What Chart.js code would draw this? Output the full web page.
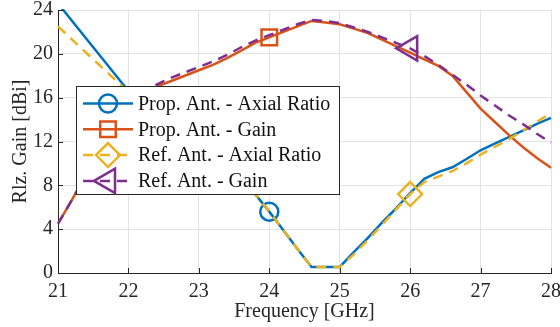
<!DOCTYPE html>
<html lang="en">
<head>
    <meta charset="UTF-8">
    <title>Rlz. Gain vs Frequency</title>
    <style>
        body { margin: 0; background: #fff; }
        #wrap { width: 560px; height: 327px; }
    </style>
</head>
<body>
    <div id="wrap"><canvas id="chart" width="560" height="327"></canvas></div>

    <script src="https://cdn.jsdelivr.net/npm/chart.js@4"></script>
    <script>
        // Frequency samples [GHz]
        const freq = [21.0, 21.2, 21.4, 21.6, 21.8, 22.0, 22.2, 22.4, 22.6, 22.8,
                      23.0, 23.2, 23.4, 23.6, 23.8, 24.0, 24.2, 24.4, 24.6, 24.8,
                      25.0, 25.2, 25.4, 25.6, 25.8, 26.0, 26.2, 26.4, 26.6, 26.8,
                      27.0, 27.2, 27.4, 27.6, 27.8, 28.0];

        // Proposed antenna - axial ratio
        const propAR = [24.6, 23.0, 21.4, 19.8, 18.2, 16.6, 15.2, 13.8, 12.5, 11.4,
                        10.5, 9.8, 9.2, 8.4, 7.2, 5.6, 3.9, 2.2, 0.55, 0.55,
                        0.55, 1.9, 3.2, 4.6, 5.9, 7.3, 8.6, 9.2, 9.65, 10.4,
                        11.2, 11.8, 12.4, 13.0, 13.6, 14.15];

        // Proposed antenna - gain
        const propGain = [4.5, 6.7, 9.0, 11.0, 12.8, 14.4, 15.9, 17.0, 17.5, 18.0,
                          18.5, 19.0, 19.6, 20.3, 21.0, 21.5, 22.0, 22.5, 23.0, 22.85,
                          22.7, 22.3, 21.9, 21.3, 20.7, 20.1, 19.5, 18.9, 18.0, 16.5,
                          15.0, 13.8, 12.6, 11.5, 10.5, 9.6];

        // Reference antenna - axial ratio
        const refAR = [22.5, 21.3, 20.1, 18.9, 17.7, 16.5, 15.2, 13.9, 12.6, 11.5,
                       10.6, 9.9, 9.2, 8.4, 7.2, 5.6, 3.9, 2.2, 0.55, 0.55,
                       0.55, 1.7, 3.0, 4.4, 5.8, 7.2, 8.3, 8.8, 9.3, 10.0,
                       10.8, 11.5, 12.2, 13.0, 13.8, 14.6];

        // Reference antenna - gain
        const refGain = [4.5, 6.7, 9.0, 11.0, 12.8, 14.5, 16.0, 17.2, 17.8, 18.3,
                         18.8, 19.3, 19.9, 20.6, 21.2, 21.7, 22.2, 22.7, 23.1, 23.0,
                         22.8, 22.4, 22.0, 21.5, 21.0, 20.5, 19.8, 19.0, 18.1, 17.2,
                         16.2, 15.3, 14.4, 13.6, 12.7, 11.9];

        const xTicks = [21, 22, 23, 24, 25, 26, 27, 28];
        const yTicks = [0, 4, 8, 12, 16, 20, 24];

        // where each curve carries its marker
        const markerFreq = [24, 24, 26, 26];

        const FONT = "'Liberation Serif', 'Times New Roman', serif";
        const AXIS = '#262626';

        const series = [
            { label: 'Prop. Ant. - Axial Ratio', values: propAR,   color: '#0072BD', dash: [],      shape: 'circle',   r: 9,  rot: 0 },
            { label: 'Prop. Ant. - Gain',        values: propGain, color: '#D95319', dash: [],      shape: 'rect',     r: 11, rot: 0 },
            { label: 'Ref. Ant. - Axial Ratio',  values: refAR,    color: '#EDB120', dash: [10, 7], shape: 'rectRot',  r: 12, rot: 0 },
            { label: 'Ref. Ant. - Gain',         values: refGain,  color: '#7E2F8E', dash: [10, 7], shape: 'triangle', r: 14, rot: -90 }
        ];

        function drawMarker(ctx, shape, cx, cy, r, rot) {
            ctx.beginPath();
            if (shape === 'circle') {
                ctx.arc(cx, cy, r, 0, Math.PI * 2);
            } else if (shape === 'rect') {
                const s = r * Math.SQRT1_2;
                ctx.rect(cx - s, cy - s, 2 * s, 2 * s);
            } else if (shape === 'rectRot') {
                ctx.moveTo(cx, cy - r); ctx.lineTo(cx + r, cy);
                ctx.lineTo(cx, cy + r); ctx.lineTo(cx - r, cy);
                ctx.closePath();
            } else {
                let a = rot * Math.PI / 180;
                for (let k = 0; k < 3; k++) {
                    const px = cx + Math.sin(a) * r, py = cy - Math.cos(a) * r;
                    k ? ctx.lineTo(px, py) : ctx.moveTo(px, py);
                    a += 2 * Math.PI / 3;
                }
                ctx.closePath();
            }
            ctx.stroke();
        }

        // MATLAB style ticks pointing into the axes
        const innerTicks = {
            id: 'innerTicks',
            afterDatasetsDraw(chart) {
                const { ctx, chartArea: a, scales: { x, y } } = chart;
                ctx.save();
                ctx.strokeStyle = AXIS;
                ctx.lineWidth = 1;
                ctx.beginPath();
                xTicks.forEach(v => {
                    const px = Math.round(x.getPixelForValue(v)) + 0.5;
                    ctx.moveTo(px, a.bottom); ctx.lineTo(px, a.bottom - 5);
                });
                yTicks.forEach(v => {
                    const py = Math.round(y.getPixelForValue(v)) + 0.5;
                    ctx.moveTo(a.left, py); ctx.lineTo(a.left + 5, py);
                });
                ctx.stroke();
                ctx.restore();
            }
        };

        // boxed legend drawn over the curves, like the original figure
        const boxLegend = {
            id: 'boxLegend',
            afterDraw(chart) {
                const ctx = chart.ctx;
                const bx = 76.5, by = 86.5, bw = 263, bh = 108;
                ctx.save();
                ctx.fillStyle = '#fff';
                ctx.fillRect(bx, by, bw, bh);
                ctx.strokeStyle = AXIS;
                ctx.lineWidth = 1;
                ctx.strokeRect(bx, by, bw, bh);
                series.forEach((s, i) => {
                    const ry = by + 17 + i * 25.8;
                    ctx.strokeStyle = s.color;
                    ctx.lineWidth = 2.5;
                    ctx.setLineDash(s.dash);
                    ctx.beginPath();
                    ctx.moveTo(83, ry); ctx.lineTo(133, ry);
                    ctx.stroke();
                    ctx.setLineDash([]);
                    drawMarker(ctx, s.shape, 108, ry, s.r, s.rot);
                    ctx.fillStyle = '#111';
                    ctx.font = '20px ' + FONT;
                    ctx.textBaseline = 'middle';
                    ctx.fillText(s.label, 138, ry + 1);
                });
                ctx.restore();
            }
        };

        new Chart(document.getElementById('chart').getContext('2d'), {
            type: 'line',
            data: {
                datasets: series.map((s, i) => ({
                    label: s.label,
                    data: freq.map((f, k) => ({ x: f, y: s.values[k] })),
                    borderColor: s.color,
                    borderWidth: 2.5,
                    borderDash: s.dash,
                    tension: 0,
                    fill: false,
                    pointStyle: s.shape,
                    pointRotation: s.rot,
                    pointRadius: c => freq[c.dataIndex] === markerFreq[i] ? s.r : 0,
                    pointHoverRadius: 0,
                    pointBorderWidth: 2.5,
                    pointBorderColor: s.color,
                    pointBackgroundColor: 'rgba(0,0,0,0)',
                    order: series.length - i,
                    clip: 1
                }))
            },
            options: {
                responsive: false,
                animation: false,
                devicePixelRatio: 1,
                layout: { padding: { top: 10, right: 9, left: 0, bottom: 0 } },
                plugins: { legend: { display: false }, tooltip: { enabled: false } },
                scales: {
                    x: {
                        type: 'linear', min: 21, max: 28,
                        afterFit: s => { s.height = 54; s.paddingLeft = 0; s.paddingRight = 0; },
                        afterBuildTicks: s => { s.ticks = xTicks.map(v => ({ value: v })); },
                        ticks: { color: AXIS, font: { family: FONT, size: 20 }, padding: 7, maxRotation: 0 },
                        grid: { color: '#e2e2e2', lineWidth: 1, drawTicks: false },
                        border: { color: AXIS, width: 1 },
                        title: { display: true, text: 'Frequency [GHz]', color: AXIS,
                                 font: { family: FONT, size: 20 }, padding: { top: 0, bottom: 3 } }
                    },
                    y: {
                        min: 0, max: 24,
                        afterFit: s => { s.width = 58; s.paddingTop = 0; s.paddingBottom = 0; },
                        afterBuildTicks: s => { s.ticks = yTicks.map(v => ({ value: v })); },
                        ticks: { color: AXIS, font: { family: FONT, size: 20 }, padding: 5 },
                        grid: { color: '#e2e2e2', lineWidth: 1, drawTicks: false },
                        border: { color: AXIS, width: 1 },
                        title: { display: true, text: 'Rlz. Gain [dBi]', color: AXIS,
                                 font: { family: FONT, size: 20 }, padding: { top: 9, bottom: 0 } }
                    }
                }
            },
            plugins: [innerTicks, boxLegend]
        });
    </script>
</body>
</html>
